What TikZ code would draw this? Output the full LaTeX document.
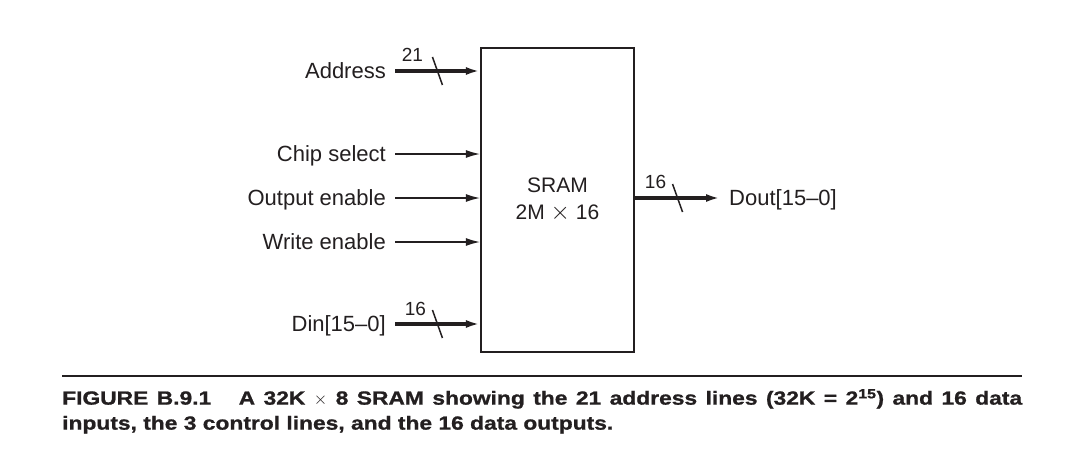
\documentclass[tikz,border=0pt]{standalone}
\usepackage{fontspec}
\setmainfont{Liberation Sans}
\newfontfamily\capfont[FakeStretch=1.2, FakeBold=1]{Liberation Sans}
\usepackage{tikz}
\usetikzlibrary{arrows.meta, positioning, calc}
\usepackage{xcolor}
\definecolor{ink}{HTML}{231F20}

\begin{document}
\begin{tikzpicture}[x=1pt, y=-1pt,
    sig/.style={anchor=east, inner xsep=9pt, inner ysep=0pt,
                text height=15.7pt, text depth=0pt,
                font=\fontsize{22}{26}\selectfont, text=ink},
    wire/.style={-{Latex[length=14pt, width=8pt]}, line width=1.3pt, draw=ink},
    bus/.style={-{Latex[length=14pt, width=8pt]}, line width=3.8pt, draw=ink},
    slash/.style={line width=1.5pt, draw=ink},
    width/.style={font=\fontsize{19}{21}\selectfont, text=ink, inner sep=0pt}
  ]
    \useasboundingbox[fill=white] (0,0) rectangle (1069,471);
    \node[draw=ink, line width=2.2pt, minimum width=153pt, minimum height=304pt,
          inner sep=0pt, align=center, text=ink,
          font=\fontsize{21}{27}\selectfont] (sram) at (557.5,200)
      {SRAM\\2M {\fontsize{25}{27}\selectfont$\times$} 16};
    \node[sig] (addr) at (395,71) {Address};
    \node[sig] (cs) at (395,154) {Chip select};
    \node[sig] (oe) at (395,198) {Output enable};
    \node[sig] (we) at (395,242) {Write enable};
    \node[sig] (din) at (395,324) {Din[15–0]};
    \node[sig, anchor=west] (dout) at (720,198) {Dout[15–0]};
    \draw[bus] (addr.east) -- coordinate[midway] (addrbus) (addr.east -| sram.west);
    \draw[wire] (cs.east) -- (cs.east -| sram.west);
    \draw[wire] (oe.east) -- (oe.east -| sram.west);
    \draw[wire] (we.east) -- (we.east -| sram.west);
    \draw[bus] (din.east) -- coordinate[midway] (dinbus) (din.east -| sram.west);
    \draw[bus] (dout.west -| sram.east) -- coordinate[midway] (doutbus) (dout.west);
    % bus widths
    \draw[slash] ($(addrbus)+(-5,-14)$) -- ($(addrbus)+(5,14)$);
    \draw[slash] ($(dinbus)+(-5,-14)$) -- ($(dinbus)+(5,14)$);
    \draw[slash] ($(doutbus)+(-5,-14)$) -- ($(doutbus)+(5,14)$);
    \node[width] (addrw) at ($(addrbus)+(-25,-16)$) {21};
    \node[width] (dinw) at ($(dinbus)+(-22,-15)$) {16};
    \node[width] (doutw) at ($(doutbus)+(-22,-16)$) {16};
    % caption
    \draw[ink, line width=1.5pt] (62,376) -- (1022,376);
    \node[anchor=north west, inner sep=0pt, text width=960pt, align=justify, text=ink,
          font=\capfont\bfseries\fontsize{19}{25}\selectfont] (caption) at (62,389)
      {FIGURE B.9.1\hspace{1em} A 32K $\times$ 8 SRAM showing the 21 address lines
       (32K = 2\textsuperscript{15}) and 16 data\linebreak inputs, the 3 control lines,
       and the 16 data outputs.};
\end{tikzpicture}
\end{document}
